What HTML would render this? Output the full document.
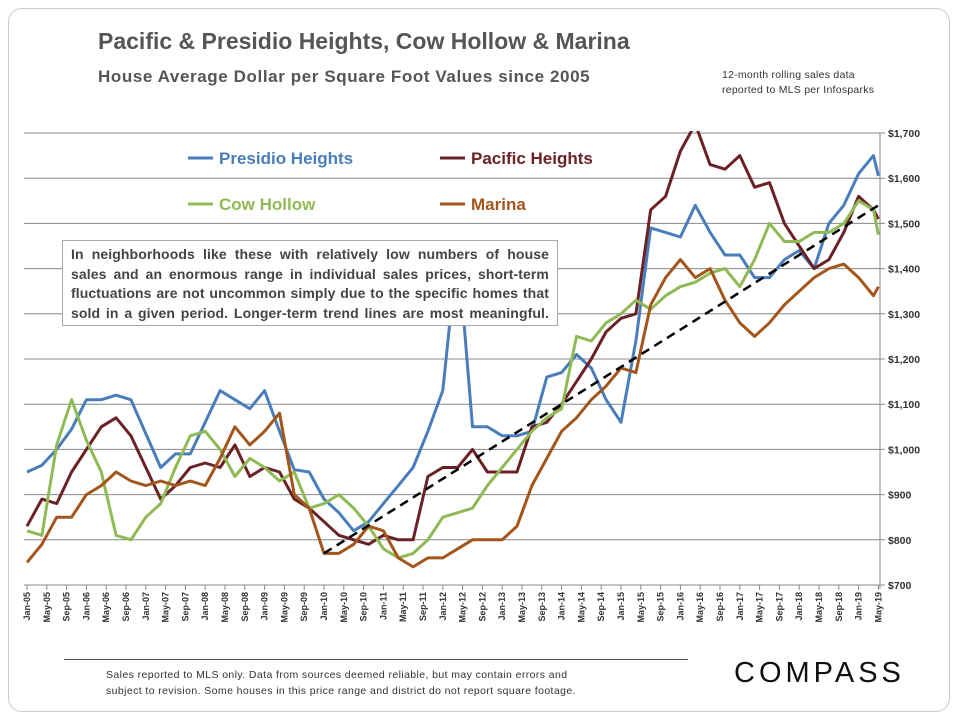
<!DOCTYPE html>
<html><head><meta charset="utf-8"><style>
body{margin:0;background:#fff;font-family:"Liberation Sans",sans-serif}
#wrap{position:relative;width:960px;height:720px;overflow:hidden}
.frame{position:absolute;left:8px;top:8px;width:940px;height:702px;border:1px solid #ccc;border-radius:14px}
.jl{display:block;text-align:justify;text-align-last:justify;white-space:nowrap}
</style></head><body>
<div id="wrap">
<div class="frame"></div>
<div style="position:absolute;left:98px;top:28px;font-size:23px;font-weight:bold;color:#555">Pacific &amp; Presidio Heights, Cow Hollow &amp; Marina</div>
<div style="position:absolute;left:98px;top:67px;font-size:17px;font-weight:bold;color:#555;letter-spacing:0.6px">House Average Dollar per Square Foot Values since 2005</div>
<div style="position:absolute;left:722px;top:68px;font-size:10.5px;color:#333;line-height:15px;letter-spacing:0.25px">12-month rolling sales data<br>reported to MLS per Infosparks</div>
<svg id="chart" width="960" height="720" style="position:absolute;left:0;top:0"></svg>
<div style="position:absolute;left:62px;top:240px;width:478px;height:76px;padding:4px 8px;border:1px solid #aaa;background:#fff;font-size:14px;font-weight:bold;color:#444;line-height:19.5px;letter-spacing:0.1px">
<span class="jl">In neighborhoods like these with relatively low numbers of house</span>
<span class="jl">sales and an enormous range in individual sales prices, short-term</span>
<span class="jl">fluctuations are not uncommon simply due to the specific homes that</span>
<span class="jl">sold in a given period. Longer-term trend lines are most meaningful.</span>
</div>
<div style="position:absolute;left:64px;top:659px;width:624px;height:1px;background:#555"></div>
<div style="position:absolute;left:106px;top:667px;font-size:10.5px;color:#333;line-height:16px;letter-spacing:0.4px">Sales reported to MLS only. Data from sources deemed reliable, but may contain errors and<br>subject to revision. Some houses in this price range and district do not report square footage.</div>
<div style="position:absolute;left:734px;top:657px;font-size:29px;letter-spacing:4px;color:#111">COMPASS</div>
</div>
<script>
const months=[0,3,6,9,12,15,18,21,24,27,30,33,36,39,42,45,48,51,54,57,60,63,66,69,72,75,78,81,84,87,90,93,96,99,102,105,108,111,114,117,120,123,126,129,132,135,138,141,144,147,150,153,156,159,162,165,168,171,172];
const presidio=[950,965,1000,1045,1110,1110,1120,1110,1035,960,990,990,1060,1130,1110,1090,1130,1040,955,950,890,860,820,840,880,920,960,1040,1130,1450,1050,1050,1030,1030,1040,1160,1170,1210,1180,1110,1060,1240,1490,1480,1470,1540,1480,1430,1430,1380,1380,1420,1440,1400,1500,1540,1610,1650,1605];
const pacific=[830,890,880,950,1000,1050,1070,1030,960,890,920,960,970,960,1010,940,960,950,890,870,840,810,800,790,810,800,800,940,960,960,1000,950,950,950,1050,1060,1100,1150,1200,1260,1290,1300,1530,1560,1660,1720,1630,1620,1650,1580,1590,1500,1450,1400,1420,1480,1560,1530,1510];
const cowHollow=[820,810,1010,1110,1020,950,810,800,850,880,960,1030,1040,1000,940,980,960,930,950,870,880,900,870,830,780,760,770,800,850,860,870,920,960,1000,1040,1070,1090,1250,1240,1280,1300,1330,1310,1340,1360,1370,1390,1400,1360,1420,1500,1460,1460,1480,1480,1500,1550,1530,1475];
const marina=[750,790,850,850,900,920,950,930,920,930,920,930,920,980,1050,1010,1040,1080,900,870,770,770,790,830,820,760,740,760,760,780,800,800,800,830,920,980,1040,1070,1110,1140,1180,1170,1320,1380,1420,1380,1400,1330,1280,1250,1280,1320,1350,1380,1400,1410,1380,1340,1360];
const trendMonths=[60,172];
const trendValues=[770,1540];
const yTicks=[700,800,900,1000,1100,1200,1300,1400,1500,1600,1700];
const xLabelMonths=[];for(let m=0;m<=172;m+=4)xLabelMonths.push(m);
const monNames=["Jan","Feb","Mar","Apr","May","Jun","Jul","Aug","Sep","Oct","Nov","Dec"];
const X=m=>27+m*4.95, Y=v=>585-(v-700)*0.452;
const NS="http://www.w3.org/2000/svg",svg=document.getElementById('chart');
function mk(t,a){const e=document.createElementNS(NS,t);for(const k in a)e.setAttribute(k,a[k]);svg.appendChild(e);return e;}
const defs=mk('defs',{});const cp=document.createElementNS(NS,'clipPath');cp.setAttribute('id','clip');
const cr=document.createElementNS(NS,'rect');cr.setAttribute('x',0);cr.setAttribute('y',Y(1700)-2);cr.setAttribute('width',960);cr.setAttribute('height',500);cp.appendChild(cr);defs.appendChild(cp);
yTicks.forEach(v=>{
 const g=mk('line',{x1:24,x2:885,y1:Y(v),y2:Y(v),stroke:'#888','stroke-width':1});
 
 
 const t=mk('text',{x:888,y:Y(v)+4,'font-size':10.5,'font-weight':'bold',fill:'#333'});
 t.textContent='$'+v.toLocaleString('en-US');
 
 
});
const ax=mk('line',{x1:880,x2:880,y1:Y(1700),y2:Y(700)+4,stroke:'#888'});


xLabelMonths.forEach(m=>{
 const x=X(m);
 const tk=mk('line',{x1:x,x2:x,y1:585,y2:590,stroke:'#888'});
 
 
 const lab=monNames[m%12]+'-'+String(5+Math.floor(m/12)).padStart(2,'0');
 const t=mk('text',{x:0,y:0,'font-size':9,'font-weight':'bold',fill:'#333','text-anchor':'end',transform:`translate(${x+3},592) rotate(-90)`});
 t.textContent=lab;
 
 
});
function series(vals,col,name){
 const d=vals.map((v,i)=>(i?'L':'M')+X(months[i]).toFixed(1)+','+Y(v).toFixed(1)).join('');
 const p=mk('path',{d,fill:'none',stroke:col,'stroke-width':3,'stroke-linejoin':'round','clip-path':'url(#clip)'});
 
 
}
series(presidio,'#4a7ebb','presidio-heights-line');
series(pacific,'#6b2226','pacific-heights-line');
series(cowHollow,'#8fba55','cow-hollow-line');
series(marina,'#a3561b','marina-line');
const tr=mk('line',{x1:X(trendMonths[0]),y1:Y(trendValues[0]),x2:X(trendMonths[1]),y2:Y(trendValues[1]),stroke:'#000','stroke-width':2.5,'stroke-dasharray':'9,6'});


[['Presidio Heights','#4a7ebb',188,158],['Pacific Heights','#6b2226',440,158],['Cow Hollow','#8fba55',188,204],['Marina','#a3561b',440,204]].forEach(([n,c,x,y])=>{
 const l=mk('line',{x1:x,x2:x+25,y1:y,y2:y,stroke:c,'stroke-width':3});
 
 
 const t=mk('text',{x:x+31,y:y+6,'font-size':17,'font-weight':'bold',fill:c});
 t.textContent=n;
 
 
});
</script>
</body></html>
